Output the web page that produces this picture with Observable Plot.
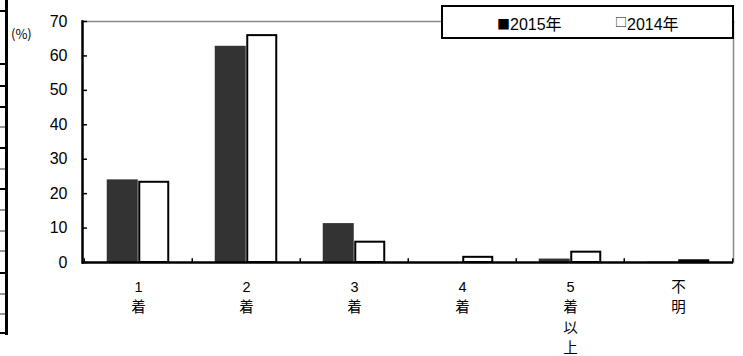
<!DOCTYPE html>
<html>
<head>
<meta charset="utf-8">
<script src="https://cdn.jsdelivr.net/npm/d3@7"></script>
<script src="https://cdn.jsdelivr.net/npm/@observablehq/plot@0.6"></script>
<style>
  html, body { margin: 0; padding: 0; background: #fff; }
  #wrap { position: relative; width: 743px; height: 356px; overflow: hidden; font-family: "Liberation Sans", "Noto Sans CJK JP", sans-serif; }
  #chart { position: absolute; left: 0; top: 0; }
  .frag { position: absolute; }
  #unit { position: absolute; left: 11px; top: 24px; font-size: 13px; color: #000; font-family: "Noto Sans CJK JP", sans-serif; }
  #legend { position: absolute; left: 441px; top: 5px; width: 289px; height: 30px; border: 2px solid #000; background: #fff; font-size: 16px; color: #000; font-family: "Liberation Sans", "Noto Sans CJK JP", sans-serif; }
  #legend span { position: absolute; top: 4px; white-space: nowrap; }
  #legend b { font-weight: normal; font-family: "Noto Sans CJK JP", sans-serif; }
</style>
</head>
<body>
<div id="wrap">
  <div id="chart"></div>
  <div id="unit">(%)</div>
  <div id="legend"></div>
</div>
<script>
// Data
const categories = ["1\n着", "2\n着", "3\n着", "4\n着", "5\n着\n以\n上", "不\n明"];
const series = ["2015年", "2014年"];
const values2015 = [24.0, 62.8, 11.3, 0.0, 1.0, 0.1];
const values2014 = [23.3, 65.9, 5.9, 1.5, 3.0, 0.5];
const yTicks = [0, 10, 20, 30, 40, 50, 60, 70];

const rows = [];
categories.forEach((c, i) => {
  rows.push({cat: c, year: series[0], v: values2015[i]});
  rows.push({cat: c, year: series[1], v: values2014[i]});
});

const W = 743, H = 356;
const mL = 82, mR = 10, mT = 21, mB = 94;
const band = (W - mL - mR) / categories.length;
const barW = 31.5;
const half = band / 2;

const font = "Liberation Sans, Noto Sans CJK JP, sans-serif";

const plot = Plot.plot({
  width: W,
  height: H,
  marginLeft: mL,
  marginRight: mR,
  marginTop: mT,
  marginBottom: mB,
  style: {fontFamily: font, background: "transparent", color: "#000"},
  x: {domain: categories, padding: 0, label: null},
  y: {domain: [0, 70], label: null},
  marks: [
    Plot.frame({anchor: "top", stroke: "#888", strokeWidth: 1.5}),
    Plot.frame({anchor: "right", stroke: "#888", strokeWidth: 1.5}),
    Plot.barY(rows.filter(d => d.year === series[0]), {
      x: "cat", y: "v", fill: "#333333",
      insetLeft: half - barW, insetRight: half
    }),
    Plot.barY(rows.filter(d => d.year === series[1]), {
      x: "cat", y: "v", fill: "#ffffff", stroke: "#000", strokeWidth: 2,
      insetLeft: half + 1, insetRight: half - barW + 1
    }),
    // category boundary ticks
    Plot.ruleX(categories, {x: d => d, y1: 0, y2: 1.1, dx: -half, stroke: "#000", strokeWidth: 1.5}),
    Plot.ruleX(categories.slice(-1), {x: d => d, y1: 0, y2: 1.1, dx: half, stroke: "#000", strokeWidth: 1.5}),
    Plot.ruleY([0], {stroke: "#000", strokeWidth: 2.5}),
    Plot.frame({anchor: "left", stroke: "#000", strokeWidth: 2.5}),
    Plot.axisY({ticks: yTicks, tickSize: 0, tickPadding: 15, fontSize: 16, label: null}),
    Plot.axisY({ticks: yTicks, tickSize: 5, dx: 5, tickFormat: () => "", strokeWidth: 1.5, label: null}),
    Plot.axisX({tickSize: 0, tickPadding: 15, fontSize: 14.5, lineHeight: 1.4, lineAnchor: "top", label: null})
  ]
});
document.getElementById("chart").appendChild(plot);

// Legend
const legend = document.getElementById("legend");
const l1 = document.createElement("span");
l1.style.left = "54px";
l1.innerHTML = "<b style='font-size:13px;vertical-align:1px'>■</b>" + series[0];
const l2 = document.createElement("span");
l2.style.left = "172px";
l2.innerHTML = "<b style='font-size:12px;vertical-align:3px'>□</b>" + series[1];
legend.appendChild(l1);
legend.appendChild(l2);

// Left fragment of adjacent table
const wrap = document.getElementById("wrap");
function addDiv(l, t, w, h, c) {
  const d = document.createElement("div");
  d.className = "frag";
  d.style.left = l + "px"; d.style.top = t + "px";
  d.style.width = w + "px"; d.style.height = h + "px";
  d.style.background = c;
  wrap.appendChild(d);
}
addDiv(5, 0, 3, 335, "#000");
[10, 63, 85, 106, 147, 188, 272, 332].forEach(y => addDiv(0, y, 6, 2, "#000"));
[126, 168, 209, 230, 250, 293, 313].forEach(y => addDiv(0, y, 5, 2, "#999"));
</script>
</body>
</html>
